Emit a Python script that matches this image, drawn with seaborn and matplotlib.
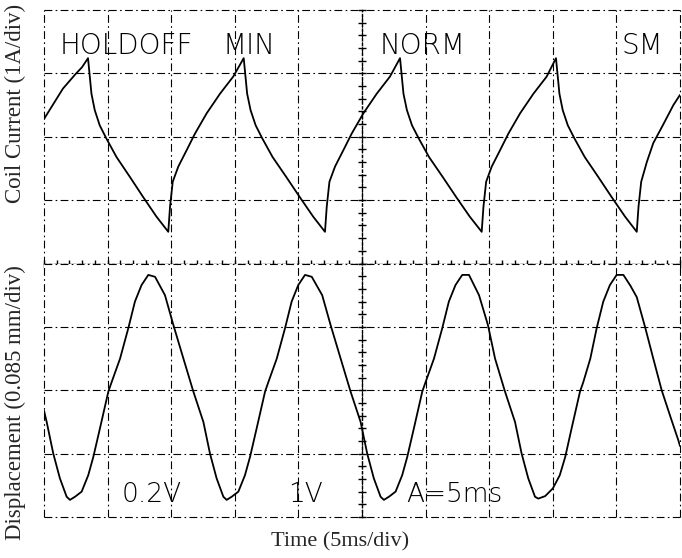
import numpy as np
import pandas as pd
import matplotlib
matplotlib.use("Agg")
import matplotlib.pyplot as plt
from matplotlib.ticker import MultipleLocator
import seaborn as sns

# ---- data (time in ms, amplitude in divisions) ----
current_t = [0.00, 1.49, 2.44, 3.00,
             3.46, 3.60, 3.73, 3.99, 4.38, 4.91, 5.70, 6.74, 7.79, 8.84, 9.77,
             9.91, 10.12, 10.56, 11.22, 11.87, 12.79, 13.84, 14.88,
             15.70, 15.84, 15.97, 16.24, 16.64, 17.17, 17.97, 19.03, 20.10, 21.16, 22.09,
             22.23, 22.44, 22.88, 23.54, 24.19, 25.11, 26.16, 27.20,
             27.99, 28.13, 28.26, 28.53, 28.93, 29.47, 30.27, 31.33, 32.40, 33.47, 34.41,
             34.55, 34.76, 35.20, 35.86, 36.51, 37.43, 38.48, 39.52,
             40.25, 40.39, 40.52, 40.78, 41.18, 41.71, 42.51, 43.56, 44.62, 45.68, 46.60,
             46.74, 46.95, 47.39, 47.90, 48.70, 49.48, 50.00]
current_div = [2.28, 2.76, 2.98, 3.10,
               3.24, 2.95, 2.68, 2.42, 2.18, 1.97, 1.68, 1.37, 1.05, 0.74, 0.50,
               0.90, 1.29, 1.53, 1.79, 2.05, 2.37, 2.68, 2.95,
               3.24, 2.95, 2.68, 2.42, 2.18, 1.97, 1.68, 1.37, 1.05, 0.74, 0.50,
               0.90, 1.29, 1.53, 1.79, 2.05, 2.37, 2.68, 2.95,
               3.24, 2.95, 2.68, 2.42, 2.18, 1.97, 1.68, 1.37, 1.05, 0.74, 0.50,
               0.90, 1.29, 1.53, 1.79, 2.05, 2.37, 2.68, 2.95,
               3.24, 2.95, 2.68, 2.42, 2.18, 1.97, 1.68, 1.37, 1.05, 0.74, 0.50,
               0.90, 1.29, 1.60, 1.90, 2.20, 2.50, 2.66]

disp_t = [0.00, 0.21, 0.73, 1.25, 1.78, 2.04,
          2.44, 2.96, 3.48, 3.88, 4.40, 5.06, 5.32, 5.98, 6.63, 7.15, 7.67, 8.20, 8.73,
          9.51, 10.17, 10.96, 11.74, 12.53, 13.05, 13.57, 14.10, 14.36,
          14.76, 15.28, 15.80, 16.20, 16.72, 17.38, 17.64, 18.30, 18.95, 19.47, 19.99, 20.52, 21.05,
          21.87, 22.53, 23.32, 24.10, 24.89, 25.41, 25.93, 26.46, 26.72,
          27.12, 27.64, 28.16, 28.56, 29.08, 29.74, 30.00, 30.66, 31.31, 31.83, 32.35, 32.88, 33.41,
          34.20, 34.90, 35.46, 36.24, 37.03, 37.55, 38.07, 38.60, 38.86,
          39.40, 40.00, 40.55, 40.98, 41.48, 42.14, 42.40, 42.95, 43.45, 43.97, 44.49, 45.02, 45.55,
          46.10, 46.60, 47.25, 47.90, 48.56, 49.25, 49.87, 50.00]
disp_div = [1.68, 1.50, 1.00, 0.61, 0.32, 0.27,
            0.32, 0.40, 0.66, 0.95, 1.40, 1.98, 2.13, 2.50, 2.98, 3.40, 3.66, 3.82, 3.79,
            3.50, 3.03, 2.50, 1.98, 1.50, 1.00, 0.61, 0.32, 0.27,
            0.32, 0.40, 0.66, 0.95, 1.40, 1.98, 2.13, 2.50, 2.98, 3.40, 3.66, 3.82, 3.79,
            3.50, 3.03, 2.50, 1.98, 1.50, 1.00, 0.61, 0.32, 0.27,
            0.32, 0.40, 0.66, 0.95, 1.40, 1.98, 2.13, 2.50, 2.98, 3.40, 3.66, 3.82, 3.82,
            3.50, 3.03, 2.50, 1.98, 1.50, 1.00, 0.61, 0.32, 0.29,
            0.33, 0.45, 0.66, 0.95, 1.40, 1.98, 2.13, 2.50, 2.98, 3.40, 3.66, 3.82, 3.82,
            3.65, 3.47, 3.00, 2.50, 2.00, 1.58, 1.21, 1.12]

top_labels = ["HOLDOFF", "MIN", "NORM", "SM"]
top_label_t = [1.26, 14.0, 26.4, 45.4]
bottom_labels = ["0.2V", "1V", "A=5ms"]
bottom_label_t = [6.1, 19.2, 28.5]

sns.set_style("white")
plt.rcParams["font.family"] = ["DejaVu Sans"]

fig = plt.figure(figsize=(6.82, 5.58), dpi=100)
W, H = 682.0, 558.0
x0, x1 = 44.0, 680.0
ytop, ymid, ybot = 10.0, 263.5, 517.0
ax_top = fig.add_axes([x0 / W, (H - ymid) / H, (x1 - x0) / W, (ymid - ytop) / H])
ax_bot = fig.add_axes([x0 / W, (H - ybot) / H, (x1 - x0) / W, (ybot - ymid) / H])

cur = pd.DataFrame({"t": current_t, "v": current_div})
dis = pd.DataFrame({"t": disp_t, "v": disp_div})

sns.lineplot(data=cur, x="t", y="v", ax=ax_top, color="black", lw=1.3, estimator=None, sort=False)
sns.lineplot(data=dis, x="t", y="v", ax=ax_bot, color="black", lw=1.3, estimator=None, sort=False)

grid_ls = (0, (7, 3, 1.5, 3))
for ax in (ax_top, ax_bot):
    ax.set_xlim(0, 50)
    ax.set_ylim(0, 4)
    ax.set_facecolor("white")
    ax.xaxis.set_major_locator(MultipleLocator(5))
    ax.yaxis.set_major_locator(MultipleLocator(1))
    ax.yaxis.set_minor_locator(MultipleLocator(0.2))
    ax.grid(True, which="major", color="black", lw=0.8, linestyle=grid_ls, clip_on=False)
    for s in ("top", "right", "bottom"):
        ax.spines[s].set_visible(False)
    ax.spines["left"].set_position(("data", 25))
    ax.spines["left"].set_linestyle((0, (1.5, 2)))
    ax.spines["left"].set_linewidth(1.0)
    ax.spines["left"].set_color("black")
    ax.tick_params(axis="y", which="both", direction="inout", length=6, width=1.0,
                   left=True, labelleft=False, color="black")
    ax.set_xlabel("")
    ax.set_ylabel("")

ax_top.spines["bottom"].set_visible(True)
ax_top.spines["bottom"].set_linestyle((0, (1.5, 2)))
ax_top.spines["bottom"].set_linewidth(1.0)
ax_top.spines["bottom"].set_color("black")
ax_top.xaxis.set_minor_locator(MultipleLocator(1))
ax_top.tick_params(axis="x", which="both", direction="inout", length=6, width=1.0,
                   bottom=True, labelbottom=False, color="black")
ax_bot.tick_params(axis="x", which="both", bottom=False, labelbottom=False)

serif = ["Liberation Serif", "DejaVu Serif"]
ax_top.set_ylabel("Coil Current (1A/div)", family=serif, fontsize=16.5)
ax_top.yaxis.set_label_coords(-0.028, 0.63)
ax_bot.set_ylabel("Displacement (0.085 mm/div)", family=serif, fontsize=16.5)
ax_bot.yaxis.set_label_coords(-0.028, 0.45)
ax_bot.set_xlabel("Time (5ms/div)", family=serif, fontsize=16)
ax_bot.xaxis.set_label_coords(0.465, -0.06)

for lab, t in zip(top_labels, top_label_t):
    ax_top.text(t, 3.3, lab, fontsize=20, family=["DejaVu Sans"], fontweight=200,
                ha="left", va="baseline", color="black")
for lab, t in zip(bottom_labels, bottom_label_t):
    ax_bot.text(t, 0.24, lab, fontsize=19, family=["DejaVu Sans"], fontweight=200,
                ha="left", va="baseline", color="black")

fig.savefig("out.png", dpi=100)
